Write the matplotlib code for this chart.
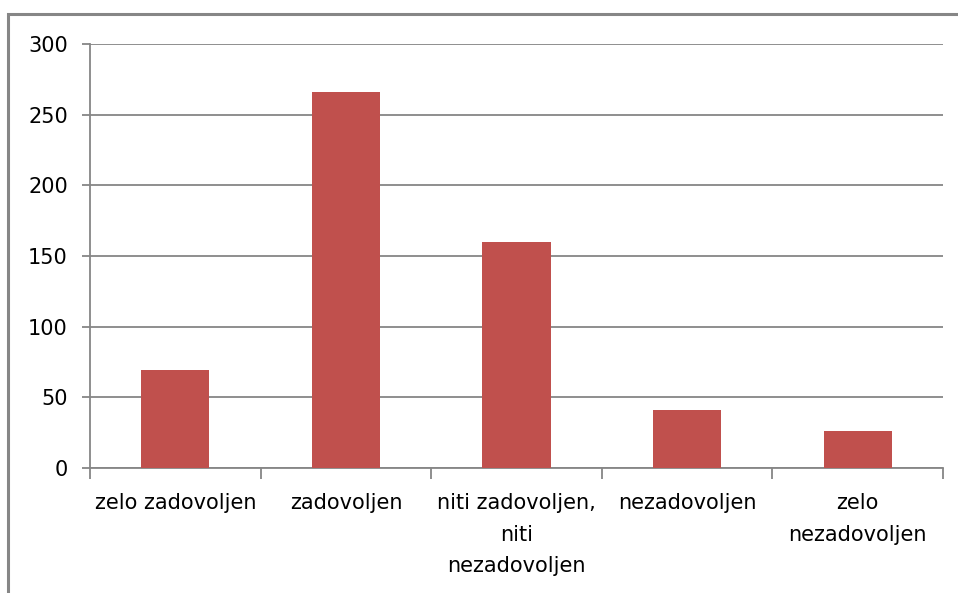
import matplotlib
matplotlib.use("Agg")
import matplotlib.pyplot as plt
from matplotlib import font_manager
from matplotlib.patches import Rectangle
import numpy as np

categories = ["zelo zadovoljen", "zadovoljen", "niti zadovoljen,\nniti\nnezadovoljen",
              "nezadovoljen", "zelo\nnezadovoljen"]
values = [69, 266, 160, 41, 26]
yticks = [0, 50, 100, 150, 200, 250, 300]

names = {f.name for f in font_manager.fontManager.ttflist}
fam = "Liberation Sans Narrow" if "Liberation Sans Narrow" in names else "DejaVu Sans"
plt.rcParams['font.family'] = [fam, 'DejaVu Sans']

grey = "#868686"
fig = plt.figure(figsize=(9.58, 5.93), dpi=100)
ax = fig.add_axes([90/958, 1-468/593, (943-90)/958, (468-44)/593])

x = np.arange(len(categories))
ax.bar(x, values, width=0.4, color="#C0504D", zorder=3)
ax.set_xlim(-0.5, len(categories)-0.5)
ax.set_ylim(0, 300)
ax.set_yticks(yticks)
ax.set_yticklabels([str(v) for v in yticks], fontsize=15)
ax.yaxis.grid(True, color=grey, lw=1.3, zorder=0)
ax.set_xticks(x)
ax.set_xticklabels(categories, fontsize=15, linespacing=1.72, va='top')
ax.tick_params(axis='x', which='major', length=0, pad=18)
ax.set_xticks(np.arange(-0.5, len(categories)), minor=True)
ax.tick_params(axis='x', which='minor', length=8, color=grey, width=1.3)
ax.tick_params(axis='y', length=6, color=grey, width=1.3, pad=10)
for s in ['top', 'right']:
    ax.spines[s].set_visible(False)
for s in ['left', 'bottom']:
    ax.spines[s].set_color(grey)
    ax.spines[s].set_linewidth(1.3)

fig.patches.append(Rectangle((8/958, -0.1), 1.2, 1-14/593+0.1, transform=fig.transFigure,
                             fill=False, edgecolor=grey, lw=2.2))
fig.savefig("out.png", dpi=100)
